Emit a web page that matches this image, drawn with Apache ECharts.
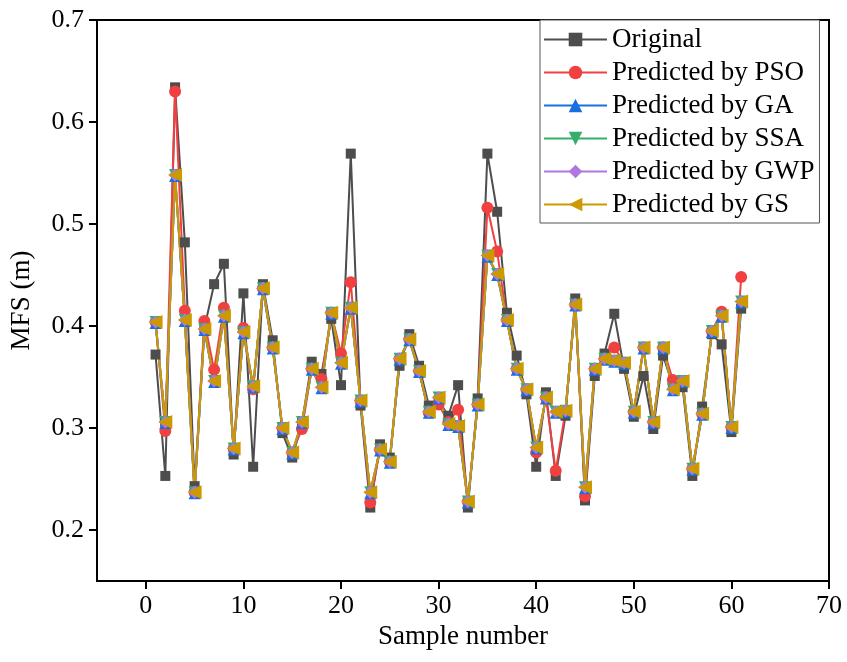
<!DOCTYPE html>
<html>
<head>
<meta charset="utf-8">
<script src="https://cdn.jsdelivr.net/npm/echarts@6/dist/echarts.min.js"></script>
<style>html,body{margin:0;padding:0;background:#fff}#c{width:847px;height:662px}</style>
</head>
<body>
<div id="c"></div>
<script>
var samples = [1,2,3,4,5,6,7,8,9,10,11,12,13,14,15,16,17,18,19,20,21,22,23,24,25,26,27,28,29,30,31,32,33,34,35,36,37,38,39,40,41,42,43,44,45,46,47,48,49,50,51,52,53,54,55,56,57,58,59,60,61];
var original = [0.372,0.253,0.634,0.482,0.243,0.398,0.441,0.461,0.274,0.432,
0.262,0.441,0.386,0.295,0.271,0.305,0.365,0.353,0.407,0.342,
0.569,0.322,0.222,0.284,0.271,0.361,0.392,0.361,0.322,0.327,
0.312,0.342,0.222,0.329,0.569,0.512,0.413,0.371,0.333,0.262,
0.335,0.253,0.312,0.427,0.229,0.351,0.373,0.412,0.358,0.311,
0.351,0.299,0.371,0.342,0.340,0.253,0.321,0.392,0.382,0.296,0.417];
var pso = [0.404,0.297,0.630,0.415,0.237,0.405,0.357,0.418,0.280,0.398,
0.338,0.437,0.379,0.300,0.276,0.299,0.358,0.348,0.413,0.373,
0.443,0.327,0.227,0.279,0.267,0.368,0.387,0.356,0.315,0.323,
0.306,0.318,0.228,0.323,0.516,0.473,0.406,0.358,0.338,0.276,
0.330,0.258,0.317,0.421,0.233,0.358,0.368,0.379,0.364,0.316,
0.379,0.306,0.379,0.347,0.346,0.260,0.314,0.395,0.414,0.301,0.448];
var ga = [0.403,0.305,0.547,0.405,0.236,0.396,0.345,0.409,0.279,0.393,
0.340,0.436,0.378,0.299,0.275,0.305,0.357,0.339,0.412,0.363,
0.417,0.326,0.236,0.278,0.266,0.367,0.386,0.355,0.315,0.329,
0.303,0.301,0.227,0.322,0.468,0.450,0.405,0.357,0.337,0.280,
0.329,0.315,0.316,0.420,0.241,0.357,0.367,0.365,0.363,0.315,
0.378,0.305,0.378,0.337,0.345,0.259,0.313,0.394,0.409,0.300,0.423];
var ssa = [0.404,0.306,0.548,0.406,0.237,0.397,0.346,0.410,0.280,0.394,
0.341,0.437,0.379,0.300,0.276,0.306,0.358,0.340,0.413,0.364,
0.418,0.327,0.237,0.279,0.267,0.368,0.387,0.356,0.316,0.330,
0.304,0.302,0.228,0.323,0.469,0.451,0.406,0.358,0.338,0.281,
0.330,0.316,0.317,0.421,0.242,0.358,0.368,0.366,0.364,0.316,
0.379,0.306,0.379,0.338,0.346,0.260,0.314,0.395,0.410,0.301,0.424];
var gwp = [0.404,0.306,0.548,0.406,0.237,0.397,0.346,0.410,0.280,0.394,
0.341,0.437,0.379,0.300,0.276,0.306,0.358,0.340,0.413,0.364,
0.418,0.327,0.237,0.279,0.267,0.368,0.387,0.356,0.316,0.330,
0.304,0.302,0.228,0.323,0.469,0.451,0.406,0.358,0.338,0.281,
0.330,0.316,0.317,0.421,0.242,0.358,0.368,0.366,0.364,0.316,
0.379,0.306,0.379,0.338,0.346,0.260,0.314,0.395,0.410,0.301,0.424];
var gs = [0.404,0.306,0.548,0.406,0.237,0.397,0.346,0.410,0.280,0.394,
0.341,0.437,0.379,0.300,0.276,0.306,0.358,0.340,0.413,0.364,
0.418,0.327,0.237,0.279,0.267,0.368,0.387,0.356,0.316,0.330,
0.304,0.302,0.228,0.323,0.469,0.451,0.406,0.358,0.338,0.281,
0.330,0.316,0.317,0.421,0.242,0.358,0.368,0.366,0.364,0.316,
0.379,0.306,0.379,0.338,0.346,0.260,0.314,0.395,0.410,0.301,0.424];
var xTicks = [0,10,20,30,40,50,60,70];
var yTicks = [0.2,0.3,0.4,0.5,0.6,0.7];
var seriesNames = ['Original','Predicted by PSO','Predicted by GA','Predicted by SSA','Predicted by GWP','Predicted by GS'];

var FONT = '"Liberation Serif","Times New Roman",serif';
function pairs(arr){ return samples.map(function(s,i){ return [s, arr[i]]; }); }
function mk(name, arr, color, symbol, size, rot){
  return {
    name: name, type: 'line', data: pairs(arr),
    symbol: symbol, symbolSize: size, symbolRotate: rot || 0,
    lineStyle: {color: color, width: 2},
    itemStyle: {color: color},
    emphasis: {disabled: true},
    animation: false
  };
}
var chart = echarts.init(document.getElementById('c'), null, {renderer: 'canvas'});
chart.setOption({
  backgroundColor: '#fff',
  animation: false,
  grid: {left: 97, right: 18, top: 20, bottom: 81, show: true, borderColor: '#000', borderWidth: 2, outerBoundsMode: 'none', containLabel: false},
  legend: {
    orient: 'vertical', left: 540, top: 20,
    backgroundColor: '#fff', borderColor: '#555', borderWidth: 1,
    padding: [6, 5, 5, 3],
    itemWidth: 63, itemHeight: 17, itemGap: 6,
    textStyle: {fontFamily: FONT, fontSize: 27, color: '#000', lineHeight: 27},
    data: seriesNames
  },
  xAxis: {
    type: 'value', min: -5, max: 70,
    name: 'Sample number', nameLocation: 'middle', nameGap: 42,
    nameTextStyle: {fontFamily: FONT, fontSize: 27, color: '#000'},
    axisLine: {show: true, onZero: false, lineStyle: {color: '#000', width: 2}},
    axisTick: {show: true, length: 8, lineStyle: {color: '#000', width: 2}, customValues: xTicks},
    axisLabel: {fontFamily: FONT, fontSize: 26, color: '#000', margin: 12, customValues: xTicks},
    splitLine: {show: false}
  },
  yAxis: {
    type: 'value', min: 0.15, max: 0.7,
    name: 'MFS (m)', nameLocation: 'middle', nameGap: 62,
    nameTextStyle: {fontFamily: FONT, fontSize: 27, color: '#000'},
    axisLine: {show: true, onZero: false, lineStyle: {color: '#000', width: 2}},
    axisTick: {show: true, length: 8, lineStyle: {color: '#000', width: 2}, customValues: yTicks},
    axisLabel: {fontFamily: FONT, fontSize: 26, color: '#000', margin: 13, customValues: yTicks,
      formatter: function(v){ return v.toFixed(1); }},
    splitLine: {show: false}
  },
  series: [
    mk(seriesNames[0], original, '#4d4d4d', 'rect', 10),
    mk(seriesNames[1], pso, '#f14040', 'circle', 12),
    mk(seriesNames[2], ga, '#1a6fdf', 'triangle', 12),
    mk(seriesNames[3], ssa, '#37ad6b', 'triangle', 12, 180),
    mk(seriesNames[4], gwp, '#b177de', 'diamond', 13),
    mk(seriesNames[5], gs, '#cc9900', 'triangle', 14, 90)
  ]
});
</script>
</body>
</html>
